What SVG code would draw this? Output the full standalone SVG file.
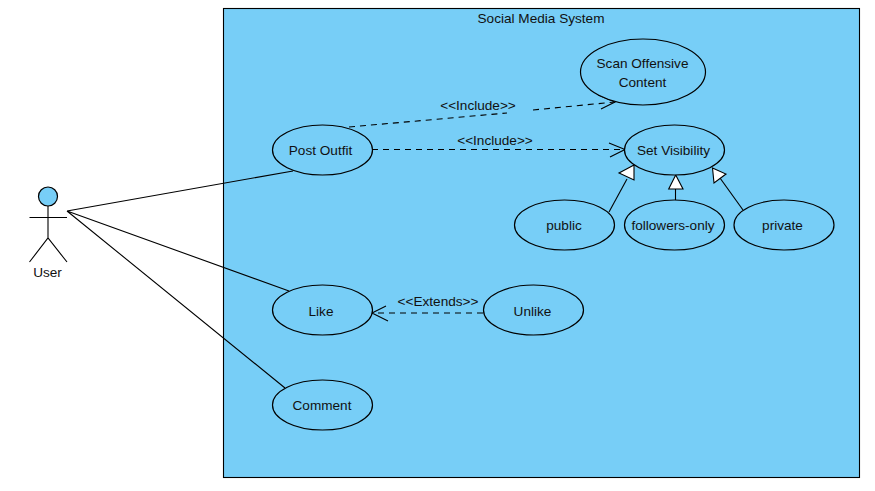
<svg xmlns="http://www.w3.org/2000/svg" width="875" height="491" viewBox="0 0 875 491">
<style>
text{font-family:"Liberation Sans",Arial,sans-serif;font-size:13.600px;fill:#111;text-anchor:middle}
.n{fill:#77CEF7;stroke:#000;stroke-width:1.200}
.l{fill:none;stroke:#000;stroke-width:1.100}
.d{stroke-dasharray:6 5}
.t{fill:#fff;stroke:#000;stroke-width:1.100}
</style>
<rect width="875" height="491" fill="#fff"/>
<g id="system">
<rect x="223.500" y="8.500" width="636" height="469" fill="#77CEF7" stroke="#000" stroke-width="1.100"/>
<text x="541" y="23">Social Media System</text>
</g>
<g id="connectors">
<path class="l" d="M67 211L293 171M67 211L289 291M67 211L285 388"/>
<path class="l d" d="M349 127L507 113M533 110L615 102"/>
<path class="l" d="M598 95L615 102L601 109"/>
<text x="478" y="110">&lt;&lt;Include&gt;&gt;</text>
<path class="l d" d="M372 149.500H624"/>
<path class="l" d="M609 143L625 149.500L610 157"/>
<text x="495" y="145">&lt;&lt;Include&gt;&gt;</text>
<path class="l d" d="M483 313H372"/>
<path class="l" d="M386 306L372 313L388 321"/>
<text x="438" y="306">&lt;&lt;Extends&gt;&gt;</text>
<path class="l" d="M609 212L627 179"/>
<path class="t" d="M634 165L619 173L634 180Z"/>
<path class="l" d="M675.500 200V189"/>
<path class="t" d="M675.700 175L668.700 189H683Z"/>
<path class="l" d="M743 210L720 178"/>
<path class="t" d="M712.500 168L726 174L714 183Z"/>
</g>
<g id="user">
<circle class="n" cx="48" cy="196.500" r="9.500"/>
<path class="l" d="M48 206V238M29.500 217.500H67M29.500 262L48 238L67 262"/>
<text x="47.500" y="277">User</text>
</g>
<g id="post-outfit"><ellipse class="n" cx="322.500" cy="150" rx="50" ry="25"/><text x="320.500" y="155">Post Outfit</text></g>
<g id="scan-offensive-content"><ellipse class="n" cx="643" cy="72" rx="62.500" ry="33"/><text x="642.500" y="68">Scan Offensive</text><text x="642.500" y="87">Content</text></g>
<g id="set-visibility"><ellipse class="n" cx="674.500" cy="150" rx="50" ry="25"/><text x="673.500" y="155">Set Visibility</text></g>
<g id="public"><ellipse class="n" cx="564.500" cy="225" rx="50" ry="25"/><text x="564" y="230">public</text></g>
<g id="followers-only"><ellipse class="n" cx="674.500" cy="225" rx="50" ry="25"/><text x="673" y="230">followers-only</text></g>
<g id="private"><ellipse class="n" cx="784" cy="225" rx="50" ry="25"/><text x="782.500" y="230">private</text></g>
<g id="like"><ellipse class="n" cx="322.500" cy="310" rx="50" ry="25"/><text x="321" y="316">Like</text></g>
<g id="unlike"><ellipse class="n" cx="533.500" cy="310" rx="50" ry="25"/><text x="532.500" y="316">Unlike</text></g>
<g id="comment"><ellipse class="n" cx="322.500" cy="405" rx="50" ry="25"/><text x="322" y="410">Comment</text></g>
</svg>
